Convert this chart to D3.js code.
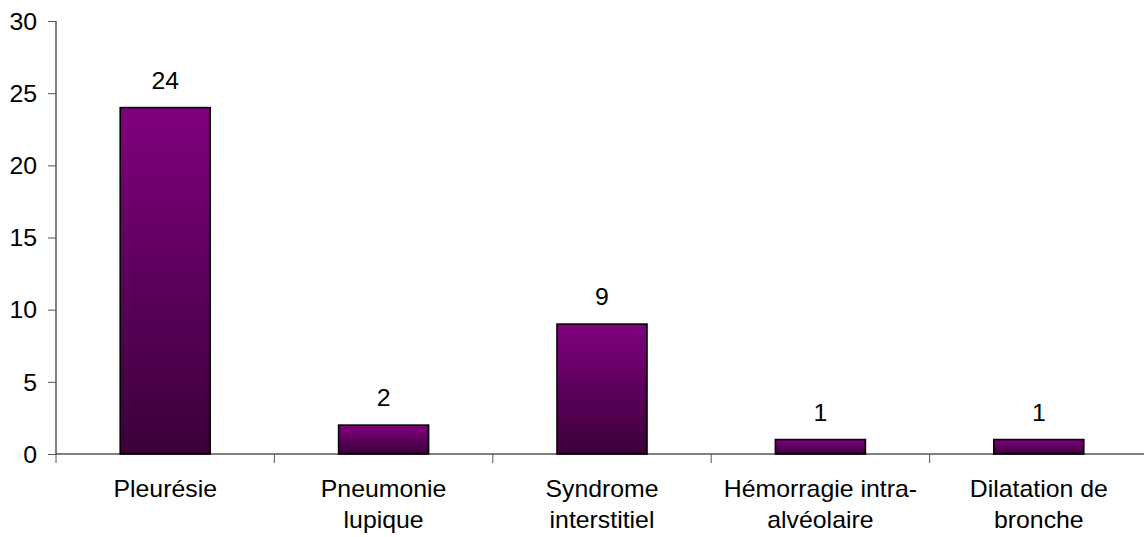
<!DOCTYPE html>
<html>
<head>
<meta charset="utf-8">
<script src="https://cdn.jsdelivr.net/npm/d3@7/dist/d3.min.js"></script>
<style>
  html, body { margin: 0; padding: 0; background: #fff; }
  svg { display: block; }
  text { font-family: "Liberation Sans", Arial, sans-serif; fill: #000; }
</style>
</head>
<body>
<svg id="chart" width="1144" height="537"></svg>
<script>
const categories = ["Pleurésie", "Pneumonie\nlupique", "Syndrome\ninterstitiel", "Hémorragie intra-\nalvéolaire", "Dilatation de\nbronche"];
const values = [24, 2, 9, 1, 1];
const yTicks = [0, 5, 10, 15, 20, 25, 30];

const SX = 1.08; // slight horizontal stretch of the reference text
const FS = "23px";

const svg = d3.select("#chart");
const x = d3.scaleBand().domain(categories).range([56, 1148]).padding(0);
const y = d3.scaleLinear().domain([0, 30]).range([454, 21]);

const defs = svg.append("defs");
const grad = defs.append("linearGradient").attr("id", "barGrad")
  .attr("x1", 0).attr("y1", 0).attr("x2", 0).attr("y2", 1);
grad.append("stop").attr("offset", "0%").attr("stop-color", "#800080");
grad.append("stop").attr("offset", "100%").attr("stop-color", "#3a0038");

const barW = x.bandwidth() * 0.412;

// bars
svg.append("g").selectAll("rect").data(values).join("rect")
  .attr("x", (d, i) => x(categories[i]) + (x.bandwidth() - barW) / 2)
  .attr("y", d => y(d))
  .attr("width", barW)
  .attr("height", d => y(0) - y(d))
  .attr("fill", "url(#barGrad)")
  .attr("stroke", "#000")
  .attr("stroke-width", 1.6);

// value labels
svg.append("g").selectAll("text").data(values).join("text")
  .attr("transform", (d, i) => `translate(${x(categories[i]) + x.bandwidth() / 2},${y(d) - 19}) scale(${SX},1)`)
  .attr("text-anchor", "middle")
  .style("font-size", FS)
  .text(d => d);

// y axis
const yAxis = d3.axisLeft(y).tickValues(yTicks).tickSize(8).tickPadding(0);
const gy = svg.append("g").attr("transform", "translate(56,0)").call(yAxis);
gy.select(".domain").attr("stroke", "#000").attr("d", `M0,${y(30)}V${y(0)}`);
gy.selectAll(".tick line").attr("stroke", "#555");
gy.selectAll(".tick text")
  .attr("x", 0).attr("dy", "0.36em")
  .attr("transform", `translate(-19,0) scale(${SX},1)`)
  .style("font-size", FS)
  .style("font-family", '"Liberation Sans", Arial, sans-serif');

// x axis
const xTickPos = categories.map(c => x(c)).concat([x.range()[1]]);
const gx = svg.append("g");
gx.append("line").attr("x1", 56).attr("x2", 1144).attr("y1", y(0)).attr("y2", y(0))
  .attr("stroke", "#000").attr("stroke-width", 1);
gx.selectAll("line.tk").data(xTickPos).join("line").attr("class", "tk")
  .attr("x1", d => d).attr("x2", d => d)
  .attr("y1", y(0)).attr("y2", y(0) + 9)
  .attr("stroke", "#555");

// category labels
const lbl = svg.append("g").selectAll("text").data(categories).join("text")
  .attr("transform", c => `translate(${x(c) + x.bandwidth() / 2},497) scale(${SX},1)`)
  .attr("text-anchor", "middle")
  .style("font-size", FS);
lbl.each(function(c) {
  const t = d3.select(this);
  c.split("\n").forEach((line, i) => {
    t.append("tspan")
      .attr("x", 0)
      .attr("dy", i === 0 ? 0 : 31)
      .text(line);
  });
});
</script>
</body>
</html>
